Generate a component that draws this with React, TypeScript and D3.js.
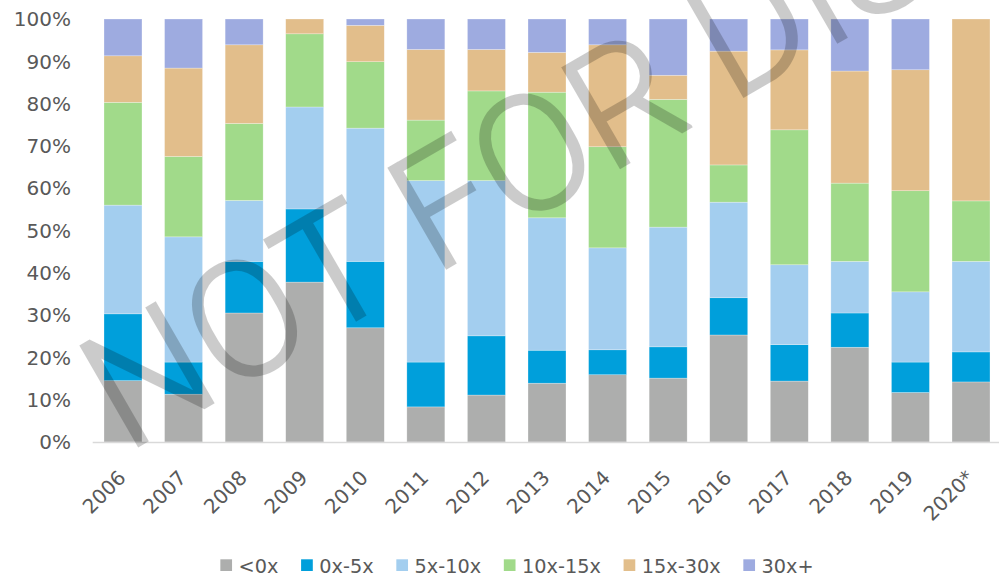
import React, { useEffect, useRef } from 'react';
import * as d3 from 'd3';

const years = ['2006', '2007', '2008', '2009', '2010', '2011', '2012', '2013', '2014', '2015', '2016', '2017', '2018', '2019', '2020*'];
const seriesNames = ['<0x', '0x-5x', '5x-10x', '10x-15x', '15x-30x', '30x+'];
const below0 = [14.5, 11.3, 30.5, 37.8, 27.0, 8.3, 11.1, 13.9, 15.9, 15.1, 25.3, 14.4, 22.4, 11.7, 14.2];
const x0to5 = [15.8, 7.6, 12.2, 17.3, 15.7, 10.6, 14.0, 7.8, 5.9, 7.4, 8.8, 8.6, 8.1, 7.2, 7.1];
const x5to10 = [25.7, 29.6, 14.4, 24.1, 31.5, 42.9, 36.7, 31.3, 24.1, 28.3, 22.6, 18.9, 12.2, 16.6, 21.4];
const x10to15 = [24.3, 19.0, 18.2, 17.3, 15.7, 14.3, 21.2, 29.7, 23.9, 30.2, 8.8, 31.9, 18.5, 23.9, 14.3];
const x15to30 = [11.0, 20.9, 18.6, 3.5, 8.6, 16.7, 9.8, 9.4, 24.1, 5.7, 26.9, 18.9, 26.5, 28.6, 43.0];
const x30plus = [8.7, 11.6, 6.1, 0, 1.5, 7.2, 7.2, 7.9, 6.1, 13.3, 7.6, 7.3, 12.3, 12.0, 0];
const colors = ['#ADAEAD', '#009FDB', '#A3CEEF', '#A1DA8A', '#E2BE8B', '#9EABE0'];
const yTicks = [0, 0.1, 0.2, 0.3, 0.4, 0.5, 0.6, 0.7, 0.8, 0.9, 1];
const watermark = 'NOT FOR DISTRIBUTION';

export default function App() {
  const ref = useRef<SVGSVGElement>(null);
  useEffect(() => {
    const svg = d3.select(ref.current);
    svg.selectAll('*').remove();
    const W = 999;
    const x0 = 92.7, x1 = 1001.3, yTop = 19, yBot = 442;
    const font = 'DejaVu Sans, sans-serif';
    const textColor = '#595959';

    const allSeries = [below0, x0to5, x5to10, x10to15, x15to30, x30plus];
    const rows = years.map((yr, i) => {
      const r: any = { year: yr };
      seriesNames.forEach((s, k) => (r[s] = allSeries[k][i]));
      return r;
    });
    const stacked = d3.stack<any>().keys(seriesNames).offset(d3.stackOffsetExpand)(rows);

    const x = d3.scaleBand<string>().domain(years).range([x0, x1]).paddingInner(0.373).paddingOuter(0.1865);
    const y = d3.scaleLinear().domain([0, 1]).range([yBot, yTop]);

    const g = svg.append('g');
    stacked.forEach((layer, k) => {
      g.selectAll(null)
        .data(layer)
        .enter()
        .append('rect')
        .attr('x', (d: any) => x(d.data.year)!)
        .attr('width', x.bandwidth())
        .attr('y', (d: any) => y(d[1]))
        .attr('height', (d: any) => Math.max(0, y(d[0]) - y(d[1])))
        .attr('fill', colors[k])
        .attr('stroke', '#ffffff')
        .attr('stroke-opacity', 0.45)
        .attr('stroke-width', 0.6);
    });

    svg.append('line')
      .attr('x1', x0).attr('x2', W).attr('y1', yBot + 0.5).attr('y2', yBot + 0.5)
      .attr('stroke', '#D9D9D9').attr('stroke-width', 1.3);

    svg.append('g').selectAll('text').data(yTicks).enter().append('text')
      .attr('x', 71).attr('y', (d) => y(d))
      .attr('dy', '0.36em')
      .attr('text-anchor', 'end')
      .attr('font-family', font).attr('font-size', 20).attr('fill', textColor)
      .text((d) => d3.format('.0%')(d));

    svg.append('g').selectAll('text').data(years).enter().append('text')
      .attr('transform', (d) => `translate(${x(d)! + x.bandwidth() / 2 + 4},${479}) rotate(-45)`)
      .attr('text-anchor', 'end')
      .attr('font-family', font).attr('font-size', 20).attr('fill', textColor)
      .text((d) => d);

    const lg = svg.append('g');
    const items = seriesNames.map((s, k) => {
      const t = lg.append('text').attr('font-family', font).attr('font-size', 19.3).attr('fill', textColor).attr('y', 572.5).text(s);
      const len = (t.node() as SVGTextElement).getComputedTextLength();
      return { t, len, k };
    });
    const sq = 11.7, gapA = 6.5, gapB = 22.7;
    const total = items.reduce((a, it) => a + sq + gapA + it.len, 0) + gapB * (items.length - 1);
    let cx = 517 - total / 2;
    items.forEach((it) => {
      lg.append('rect').attr('x', cx).attr('y', 559.3).attr('width', sq).attr('height', sq).attr('fill', colors[it.k]);
      it.t.attr('x', cx + sq + gapA);
      cx += sq + gapA + it.len + gapB;
    });

    svg.append('g')
      .attr('opacity', 0.2)
      .append('text')
      .attr('transform', 'translate(126,453) rotate(-30)')
      .attr('font-family', 'Roboto, sans-serif')
      .attr('font-weight', 300)
      .attr('font-size', 162)
      .attr('fill', '#000')
      .attr('stroke', '#000')
      .attr('stroke-width', 2.5)
      .attr('stroke-linejoin', 'miter')
      .text(watermark);
  }, []);
  return (
    <svg ref={ref} width={999} height={576} style={{ position: 'absolute', left: 0, top: 0, background: '#fff' }} />
  );
}
